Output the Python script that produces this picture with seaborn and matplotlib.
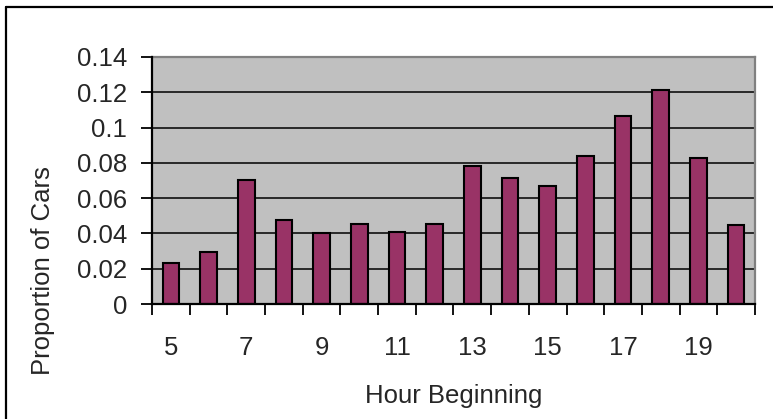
import matplotlib
matplotlib.use("Agg")
import matplotlib.pyplot as plt
from matplotlib.lines import Line2D
import seaborn as sns
import pandas as pd
import numpy as np

hours = [5, 6, 7, 8, 9, 10, 11, 12, 13, 14, 15, 16, 17, 18, 19, 20]
proportions = [0.023, 0.0297, 0.0704, 0.0476, 0.0401, 0.0455, 0.0410, 0.0455,
               0.0783, 0.0715, 0.0670, 0.0839, 0.1063, 0.1212, 0.0828, 0.0446]
y_ticks = [0, 0.02, 0.04, 0.06, 0.08, 0.1, 0.12, 0.14]
y_tick_labels = ["0", "0.02", "0.04", "0.06", "0.08", "0.1", "0.12", "0.14"]
x_tick_labels = ["5", "7", "9", "11", "13", "15", "17", "19"]

sns.set_style("white")
plt.rcParams['font.family'] = ['Liberation Sans', 'DejaVu Sans']
FS = 18.5

df = pd.DataFrame({"Hour": [str(h) for h in hours], "Proportion": proportions})

W, H = 773, 419
fig = plt.figure(figsize=(W / 100, H / 100), dpi=100)
left, right, top, bottom = 152, 755, 57, 304
ax = fig.add_axes([left / W, 1 - bottom / H, (right - left) / W, (bottom - top) / H])
ax.set_facecolor("#C0C0C0")

sns.barplot(data=df, x="Hour", y="Proportion", color="#993366", saturation=1,
            width=0.44, edgecolor="black", linewidth=1.5, ax=ax, zorder=3)

ax.set_xlim(-0.5, len(hours) - 0.5)
ax.set_ylim(0, 0.14)
ax.set_yticks(y_ticks)
ax.set_yticklabels(y_tick_labels, fontsize=FS)
for yv in y_ticks[1:-1]:
    ax.axhline(yv, color="black", lw=1.1, zorder=1)

# major ticks at category boundaries, minor (labelled) at odd hours
ax.set_xticks(np.arange(-0.5, len(hours), 1.0))
ax.set_xticklabels([])
lab_pos = [hours.index(int(t)) for t in x_tick_labels]
ax.set_xticks(lab_pos, minor=True)
ax.set_xticklabels(x_tick_labels, minor=True, fontsize=FS)
ax.tick_params(axis="x", which="major", length=8, width=1.3, color="black", direction="out", bottom=True)
ax.tick_params(axis="x", which="minor", length=0, pad=23)
ax.tick_params(axis="y", length=8, width=1.3, color="black", direction="out", left=True, pad=10)

for s in ["left", "bottom"]:
    ax.spines[s].set_color("black")
    ax.spines[s].set_linewidth(1.6)
    ax.spines[s].set_zorder(5)
for s in ["top", "right"]:
    ax.spines[s].set_color("#808080")
    ax.spines[s].set_linewidth(1.6)

ax.set_xlabel("Hour Beginning", fontsize=FS)
ax.set_ylabel("Proportion of Cars", fontsize=FS)
ax.xaxis.set_label_coords(0.5, -0.372)
ax.yaxis.set_label_coords(-0.181, 0.134)
ax.xaxis.label.set_va("center")
ax.yaxis.label.set_va("center")

# chart-area border (left and top visible)
fig.add_artist(Line2D([6.5 / W, 6.5 / W], [0, 1 - 7 / H], transform=fig.transFigure, color="black", lw=1.6))
fig.add_artist(Line2D([6.5 / W, 1], [1 - 7 / H, 1 - 7 / H], transform=fig.transFigure, color="black", lw=1.6))

fig.savefig("out.png", dpi=100)
